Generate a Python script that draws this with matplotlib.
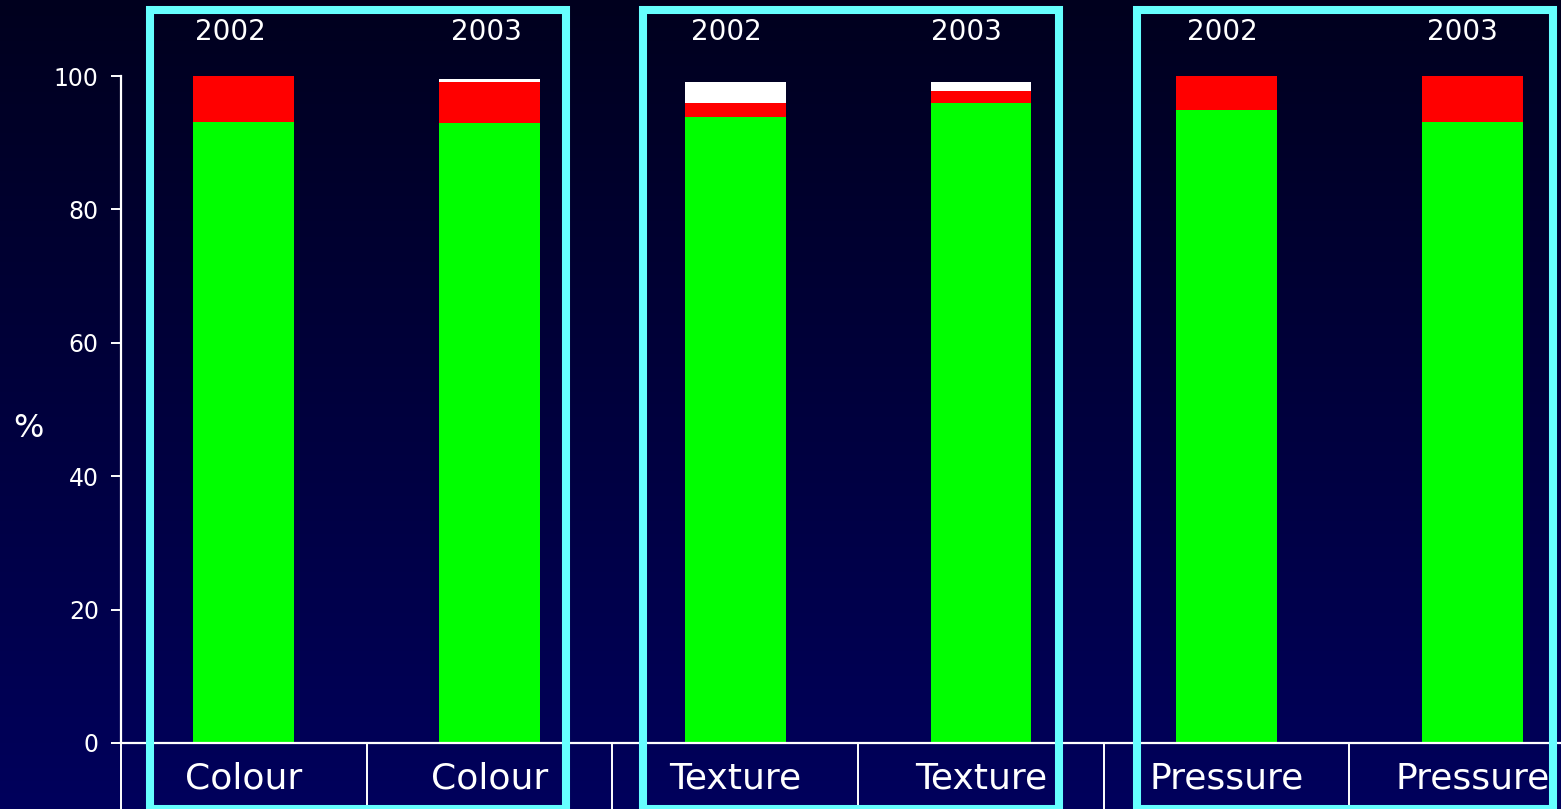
import numpy as np
import matplotlib
matplotlib.use("Agg")
import matplotlib.pyplot as plt
from matplotlib.patches import Rectangle
from matplotlib.transforms import blended_transform_factory
from matplotlib.colors import LinearSegmentedColormap

plt.rcParams['font.family'] = ['DejaVu Sans']

# Data
categories = ["Colour", "Colour", "Texture", "Texture", "Pressure", "Pressure"]
years = ["2002", "2003", "2002", "2003", "2002", "2003"]
green_vals = [93.1, 93.0, 93.9, 96.0, 94.9, 93.1]
red_vals = [6.9, 6.1, 2.1, 1.8, 5.1, 6.9]
white_vals = [0.0, 0.4, 3.1, 1.3, 0.0, 0.0]
y_ticks = [0, 20, 40, 60, 80, 100]

# Layout (in category-slot units)
year_x = [0.444, 1.486, 2.462, 3.439, 4.481, 5.458]
frame_x = [(0.118, 1.811), (2.126, 3.819), (4.137, 5.830)]

W, H = 1561, 809
fig = plt.figure(figsize=(W / 100, H / 100), dpi=100)

# Background gradient, dark at the top to navy at the bottom
bg = fig.add_axes([0, 0, 1, 1])
bg.set_axis_off()
grad = np.linspace(0, 1, 256).reshape(-1, 1)
cmap = LinearSegmentedColormap.from_list("bg", ["#00001E", "#00005C"])
bg.imshow(grad, aspect="auto", cmap=cmap, extent=[0, 1, 0, 1], origin="upper")
bg.set_xlim(0, 1)
bg.set_ylim(0, 1)

# Plot area: each category slot is ~245.7 px wide, 0..100 spans 667 px
left_px, bottom_px, slot_px, span_px = 121, 809 - 743, 245.7, 667
ax = fig.add_axes([left_px / W, bottom_px / H, slot_px * 6 / W, span_px / H])
ax.patch.set_alpha(0)
ax.set_xlim(0, 6)
ax.set_ylim(0, 100)

x = np.arange(len(categories)) + 0.5
bw = 0.41
g = np.array(green_vals)
r = np.array(red_vals)
w = np.array(white_vals)
ax.bar(x, g, width=bw, color="#00FF00", zorder=2)
ax.bar(x, r, width=bw, bottom=g, color="#FF0000", zorder=2)
ax.bar(x, w, width=bw, bottom=g + r, color="#FFFFFF", zorder=2)

for s in ["top", "right"]:
    ax.spines[s].set_visible(False)
for s in ["left", "bottom"]:
    ax.spines[s].set_color("white")
    ax.spines[s].set_linewidth(1.6)
ax.spines["bottom"].set_zorder(3)
ax.set_yticks(y_ticks)
ax.tick_params(axis="y", colors="white", labelsize=17, length=7, width=1.4,
               direction="out", pad=9)
ax.set_xticks([])

# Category separators below the zero line
trans = blended_transform_factory(ax.transData, ax.transAxes)
drop = bottom_px / span_px
for b in range(0, 7):
    ax.plot([b, b], [0, -drop - 0.01], color="white", lw=1.4,
            transform=trans, clip_on=False, zorder=3)

# Category labels and year labels
for xi, cat in zip(x, categories):
    ax.text(xi, -0.053, cat, transform=trans, ha="center", va="center",
            color="white", fontsize=26, clip_on=False)
for xi, yr in zip(year_x, years):
    ax.text(xi, 106.6, yr, ha="center", va="center", color="white",
            fontsize=20, clip_on=False)

# Frames around each pair of years
for x0, x1 in frame_x:
    rect = Rectangle((x0, -9.9), x1 - x0, 109.9 + 9.9, fill=False,
                     edgecolor="#66FFFF", lw=5.8, clip_on=False, zorder=5)
    ax.add_patch(rect)

fig.text(28 / W, 1 - 429 / H, "%", color="white", fontsize=23,
         ha="center", va="center")

fig.savefig("out.png", dpi=100)
